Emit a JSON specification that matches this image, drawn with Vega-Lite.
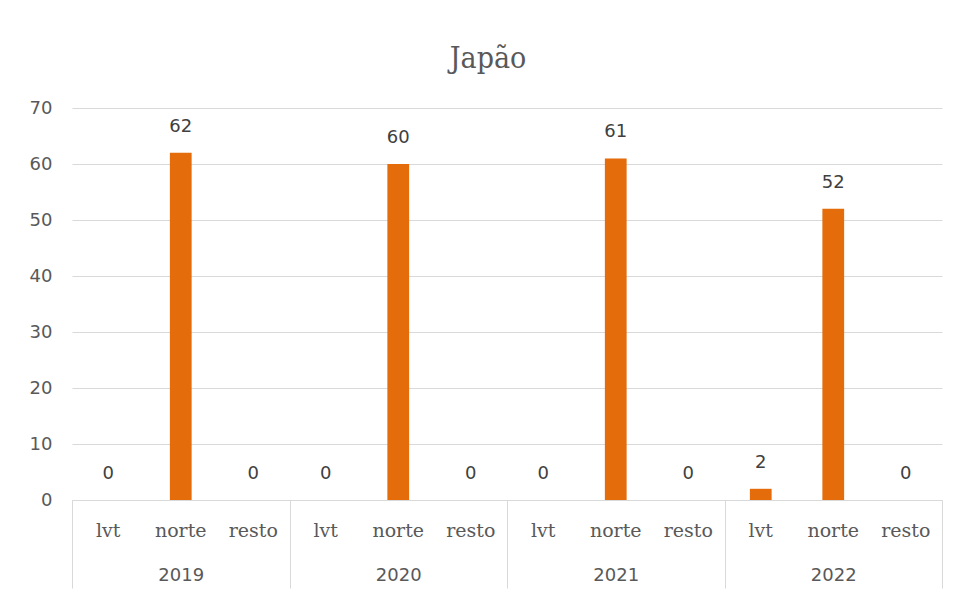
{
  "$schema": "https://vega.github.io/schema/vega-lite/v6.json",
  "width": 870,
  "height": 392,
  "autosize": "none",
  "padding": {"left": 72, "top": 108, "right": 15, "bottom": 94},
  "background": "white",
  "title": {
    "text": "Japão",
    "font": "DejaVu Serif Condensed",
    "fontSize": 30,
    "fontWeight": "normal",
    "color": "#595959",
    "anchor": "middle",
    "dx": -19,
    "offset": 25
  },
  "config": {
    "view": {"stroke": null},
    "axis": {"labelColor": "#595959", "domainColor": "#d9d9d9", "tickColor": "#d9d9d9", "gridColor": "#d9d9d9"}
  },
  "data": {
    "values": [
      {"year": "2019", "region": "lvt", "cat": "2019 lvt", "value": 0},
      {"year": "2019", "region": "norte", "cat": "2019 norte", "value": 62},
      {"year": "2019", "region": "resto", "cat": "2019 resto", "value": 0},
      {"year": "2020", "region": "lvt", "cat": "2020 lvt", "value": 0},
      {"year": "2020", "region": "norte", "cat": "2020 norte", "value": 60},
      {"year": "2020", "region": "resto", "cat": "2020 resto", "value": 0},
      {"year": "2021", "region": "lvt", "cat": "2021 lvt", "value": 0},
      {"year": "2021", "region": "norte", "cat": "2021 norte", "value": 61},
      {"year": "2021", "region": "resto", "cat": "2021 resto", "value": 0},
      {"year": "2022", "region": "lvt", "cat": "2022 lvt", "value": 2},
      {"year": "2022", "region": "norte", "cat": "2022 norte", "value": 52},
      {"year": "2022", "region": "resto", "cat": "2022 resto", "value": 0}
    ]
  },
  "layer": [
    {
      "encoding": {
        "x": {
          "field": "cat",
          "type": "nominal",
          "sort": null,
          "scale": {"paddingInner": 0.7, "paddingOuter": 0.35},
          "axis": {
            "orient": "bottom",
            "title": null,
            "labelExpr": "split(datum.value, ' ')[1]",
            "labelAngle": 0,
            "labelFont": "DejaVu Serif",
            "labelFontSize": 19,
            "labelPadding": 21,
            "ticks": false,
            "domain": true,
            "grid": false
          }
        },
        "y": {
          "field": "value",
          "type": "quantitative",
          "scale": {"domain": [0, 70]},
          "axis": {
            "title": null,
            "values": [0, 10, 20, 30, 40, 50, 60, 70],
            "domain": false,
            "ticks": false,
            "grid": true,
            "labelFont": "DejaVu Sans",
            "labelFontSize": 18,
            "labelPadding": 20
          }
        }
      },
      "layer": [
        {"mark": {"type": "bar", "color": "#E46C0A"}},
        {
          "mark": {"type": "text", "baseline": "middle", "dy": -26, "font": "DejaVu Sans", "fontSize": 18, "color": "#404040"},
          "encoding": {"text": {"field": "value", "type": "quantitative"}}
        }
      ]
    },
    {
      "mark": {"type": "point", "opacity": 0},
      "encoding": {
        "x": {
          "field": "year",
          "type": "ordinal",
          "scale": {"paddingInner": 0, "paddingOuter": 0},
          "axis": {
            "orient": "bottom",
            "title": null,
            "labelAngle": 0,
            "labelFont": "DejaVu Sans",
            "labelFontSize": 18,
            "tickBand": "extent",
            "tickSize": 88,
            "labelPadding": -22,
            "domain": false,
            "grid": false
          }
        },
        "y": {"field": "value", "type": "quantitative"}
      }
    }
  ],
  "resolve": {"scale": {"x": "independent"}, "axis": {"x": "independent"}}
}
